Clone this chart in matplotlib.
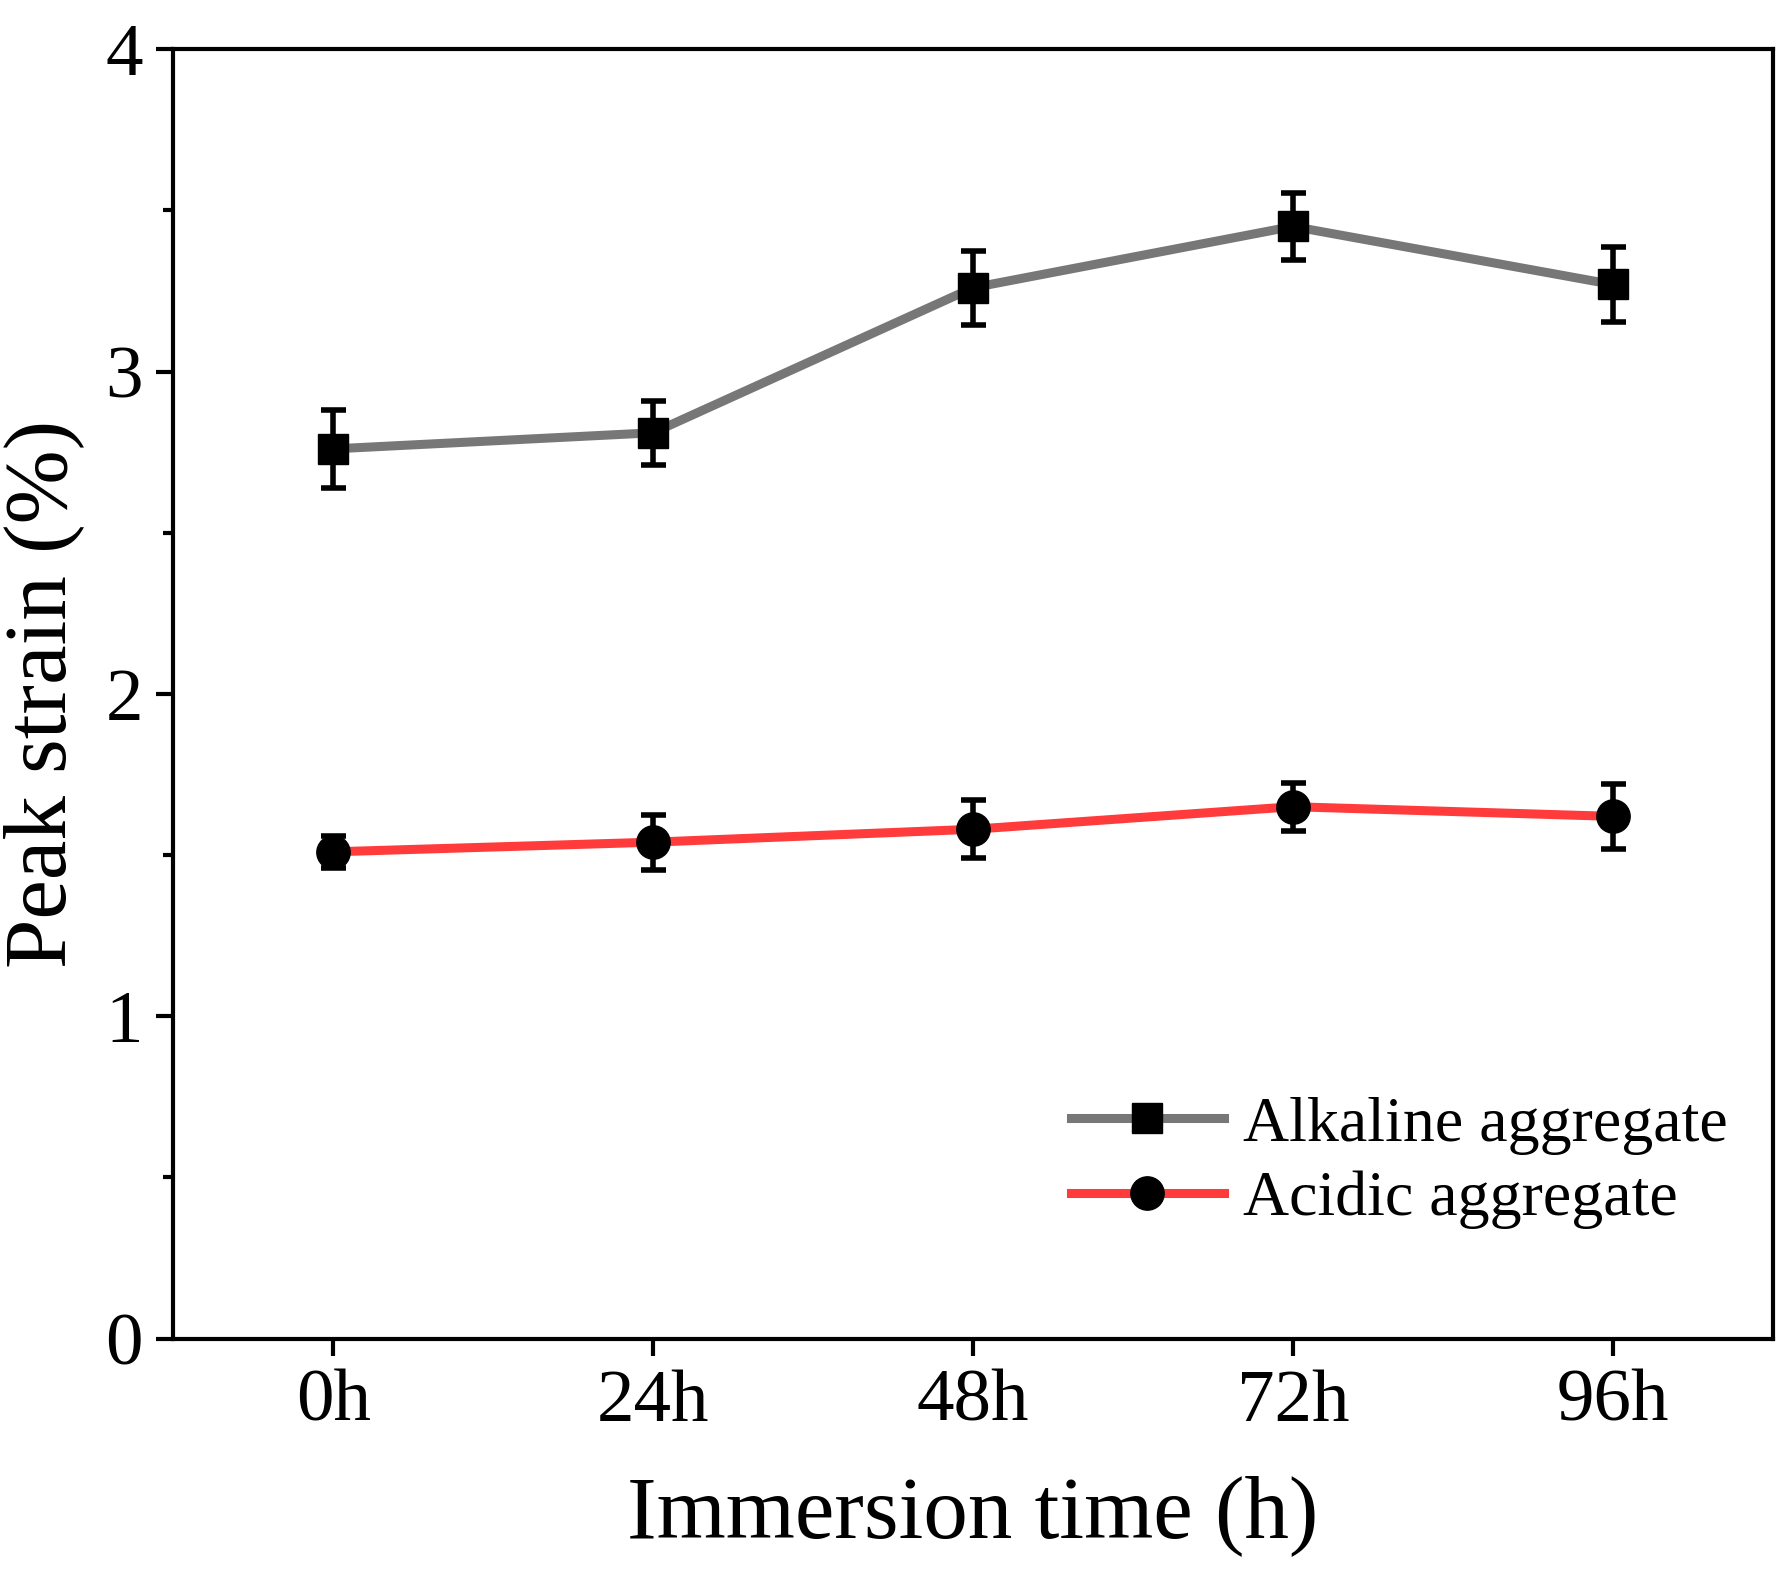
import numpy as np
import matplotlib
matplotlib.use('Agg')
import matplotlib.pyplot as plt
from matplotlib.ticker import MultipleLocator
from matplotlib.lines import Line2D

plt.rcParams['font.family'] = 'Liberation Serif'

times = ['0h', '24h', '48h', '72h', '96h']
alkaline = [2.76, 2.81, 3.26, 3.45, 3.27]
alkaline_err = [0.12, 0.10, 0.115, 0.105, 0.115]
acidic = [1.51, 1.54, 1.58, 1.65, 1.62]
acidic_err = [0.05, 0.085, 0.09, 0.075, 0.10]

x = np.arange(len(times))

fig = plt.figure(figsize=(17.87, 15.86), dpi=100)
ax = fig.add_axes([0.097, 0.156, 0.895, 0.813])

ax.errorbar(x, alkaline, yerr=alkaline_err, color='#777777', lw=6.5, marker='s',
            ms=22, mfc='black', mec='black', ecolor='black', elinewidth=4,
            capsize=9, capthick=4)
ax.errorbar(x, acidic, yerr=acidic_err, color='#ff3b3b', lw=6.5, marker='o',
            ms=24, mfc='black', mec='black', ecolor='black', elinewidth=4,
            capsize=9, capthick=4)

ax.set_xlim(-0.5, 4.5)
ax.set_ylim(0, 4)
ax.set_xticks(x)
ax.set_xticklabels(times)
ax.yaxis.set_major_locator(MultipleLocator(1))
ax.yaxis.set_minor_locator(MultipleLocator(0.5))
ax.tick_params(which='major', direction='out', length=12, width=3, labelsize=54, pad=10)
ax.tick_params(which='minor', direction='out', length=7, width=3)
for s in ax.spines.values():
    s.set_linewidth(3)

ax.set_xlabel('Immersion time (h)', fontsize=64, labelpad=28)
ax.set_ylabel('Peak strain (%)', fontsize=64, labelpad=15)

handles = [
    Line2D([], [], color='#777777', lw=6.5, marker='s', ms=22, mfc='black', mec='black'),
    Line2D([], [], color='#ff3b3b', lw=6.5, marker='o', ms=24, mfc='black', mec='black'),
]
ax.legend(handles, ['Alkaline aggregate', 'Acidic aggregate'], loc='lower right',
          bbox_to_anchor=(1.0, 0.05), frameon=False, fontsize=46,
          handlelength=2.4, handletextpad=0.3, borderaxespad=0.3, labelspacing=0.25)

fig.savefig('out.png', dpi=100)
